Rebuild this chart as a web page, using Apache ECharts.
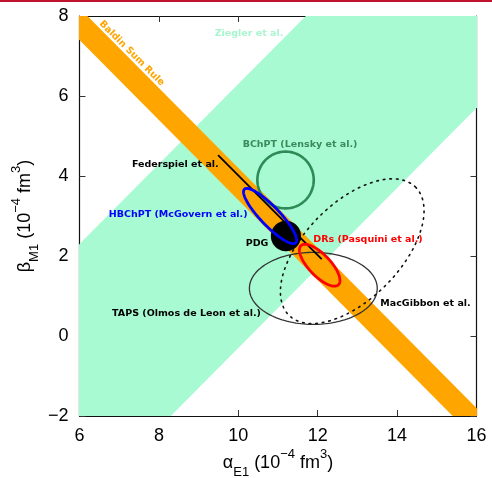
<!DOCTYPE html>
<html><head><meta charset="utf-8">
<script src="https://cdn.jsdelivr.net/npm/echarts@6/dist/echarts.min.js"></script>
<style>html,body{margin:0;padding:0;background:#fff}#c{width:492px;height:478px}</style>
</head><body><div id="c"></div>
<script>
// ---- data ----
const xRange = [6, 16];
const yRange = [-2, 8];
const tickStep = 2;
const baldinSum = [13.4, 14.2];      // alpha + beta band limits
const zieglerDiff = [3.7, 10.3];     // alpha - beta band limits
const federspielLine = [[9.49, 4.52], [12.1, 1.92]];
// ellipses: [alpha centre, beta centre, semi-axis a, semi-axis b, angle (deg)]
const tapsEllipse = [11.89, 1.19, 1.61, 0.9, 0];
const macgibbonEllipse = [12.87, 2.12, 2.26, 1.2, 45];
const lenskyEllipse = [11.19, 3.9, 0.71, 0.71, 0];
const pdgEllipse = [11.2, 2.5, 0.38, 0.38, 0];
const mcgovernEllipse = [10.8, 3.0, 0.93, 0.24, -46];
const pasquiniEllipse = [12.05, 1.77, 0.68, 0.27, -46];
const labelTexts = ['Baldin Sum Rule', 'Ziegler et al.', 'BChPT (Lensky et al.)', 'Federspiel et al.',
  'HBChPT (McGovern et al.)', 'PDG', 'DRs (Pasquini et al.)', 'TAPS (Olmos de Leon et al.)', 'MacGibbon et al.'];

// ---- helpers ----
function ellipsePts(e) {
  const [cx, cy, a, b, deg] = e, th = deg * Math.PI / 180, pts = [];
  for (let i = 0; i < 160; i++) {
    const t = i / 160 * 2 * Math.PI;
    const u = a * Math.cos(t), v = b * Math.sin(t);
    pts.push([cx + u * Math.cos(th) - v * Math.sin(th), cy + u * Math.sin(th) + v * Math.cos(th)]);
  }
  return pts;
}
function shapeSeries(ptsData, style, closed) {
  return {
    type: 'custom', coordinateSystem: 'cartesian2d', clip: true, silent: true,
    data: [[xRange[0], yRange[0]]],
    renderItem: (params, api) => ({
      type: closed ? 'polygon' : 'polyline',
      shape: { points: ptsData.map(p => api.coord(p)) },
      style: style
    })
  };
}
const lo = 3, hi = 19;
const zieglerPoly = [[lo, lo - zieglerDiff[0]], [hi, hi - zieglerDiff[0]], [hi, hi - zieglerDiff[1]], [lo, lo - zieglerDiff[1]]];
const baldinPoly = [[lo, baldinSum[0] - lo], [hi, baldinSum[0] - hi], [hi, baldinSum[1] - hi], [lo, baldinSum[1] - lo]];

const green = '#a8fad2';
const series = [
  shapeSeries(zieglerPoly, { fill: green, stroke: null }, true),
  shapeSeries(baldinPoly, { fill: '#ffa500', stroke: null }, true),
  shapeSeries(ellipsePts(tapsEllipse), { fill: null, stroke: '#333', lineWidth: 1.3 }, true),
  shapeSeries(ellipsePts(macgibbonEllipse), { fill: null, stroke: '#111', lineWidth: 1.6, lineDash: [1.6, 5], lineCap: 'round' }, true),
  shapeSeries(ellipsePts(lenskyEllipse), { fill: null, stroke: '#2e8b57', lineWidth: 2.6 }, true),
  shapeSeries(federspielLine, { fill: null, stroke: '#000', lineWidth: 1.8 }, false),
  shapeSeries(ellipsePts(pdgEllipse), { fill: '#000', stroke: null }, true),
  shapeSeries(ellipsePts(mcgovernEllipse), { fill: null, stroke: '#0000ff', lineWidth: 2.8 }, true),
  shapeSeries(ellipsePts(pasquiniEllipse), { fill: null, stroke: '#ff0000', lineWidth: 2.8 }, true)
];

// ---- titles with sub/superscripts ----
const cv = document.createElement('canvas').getContext('2d');
const FF = '"Liberation Sans", Arial, sans-serif';
function mw(t, s) { cv.font = s + 'px ' + FF; return cv.measureText(t).width; }
function titleChildren(parts) {
  let x = 0; const kids = [];
  parts.forEach(([t, k]) => {
    const s = k === 'm' ? 18 : 13;
    const dy = k === 'm' ? 0 : (k === 'sup' ? -9 : 9);
    kids.push({ type: 'text', x: x, y: dy, style: { text: t, font: s + 'px ' + FF, fill: '#000', align: 'left', verticalAlign: 'middle', textAlign: 'left', textVerticalAlign: 'middle' } });
    x += mw(t, s);
  });
  return { kids, w: x };
}
const xt = titleChildren([['α', 'm'], ['E1', 'sub'], [' (10', 'm'], ['−4', 'sup'], [' fm', 'm'], ['3', 'sup'], [')', 'm']]);
const yt = titleChildren([['β', 'm'], ['M1', 'sub'], [' (10', 'm'], ['−4', 'sup'], [' fm', 'm'], ['3', 'sup'], [')', 'm']]);

const LF = '"DejaVu Sans", sans-serif';
function lab(i, x, y, color, rot) {
  return { type: 'text', x: x, y: y, rotation: rot || 0, z: 100,
    style: { text: labelTexts[i], font: 'bold 9.5px ' + LF, fill: color, align: 'center', verticalAlign: 'middle', textAlign: 'center', textVerticalAlign: 'middle' } };
}
const graphics = [
  { type: 'rect', x: 0, y: 0, shape: { width: 492, height: 2 }, style: { fill: '#c0122d' }, z: 100 },
  lab(0, 131.7, 53.3, '#ffa500', -Math.PI / 4),
  lab(1, 249, 33.3, '#a8f5d0'),
  lab(2, 300, 145, '#3a8a5e'),
  lab(3, 175.3, 165, '#000'),
  lab(4, 178.2, 214.3, '#0000ff'),
  lab(5, 257, 244, '#000'),
  lab(6, 368, 240, '#ff0000'),
  lab(7, 186.5, 313.3, '#000'),
  lab(8, 425.5, 304, '#000'),
  { type: 'group', x: 278 - xt.w / 2, y: 463.5, children: xt.kids, z: 100 },
  { type: 'group', x: 25, y: 216 + yt.w / 2, rotation: Math.PI / 2, children: yt.kids, z: 100 }
];

function axisBase(pos, showLabel, rng) {
  return {
    type: 'value', min: rng[0], max: rng[1], interval: tickStep, position: pos,
    axisLine: { show: true, onZero: false, lineStyle: { color: '#111', width: 1.2 } },
    axisTick: { show: true, inside: true, length: 6, lineStyle: { color: '#333', width: 1 } },
    axisLabel: { show: showLabel, fontSize: 18, fontFamily: FF, color: '#000', margin: 11,
      formatter: v => String(v).replace('-', '−') },
    splitLine: { show: false }
  };
}
const chart = echarts.init(document.getElementById('c'), null, { renderer: 'canvas' });
chart.setOption({
  animation: false,
  grid: { left: 79.5, top: 16, width: 397, height: 400, containLabel: false },
  xAxis: [axisBase('bottom', true, xRange), axisBase('top', false, xRange)],
  yAxis: [axisBase('left', true, yRange), axisBase('right', false, yRange)],
  series: series,
  graphic: graphics
});
</script></body></html>
